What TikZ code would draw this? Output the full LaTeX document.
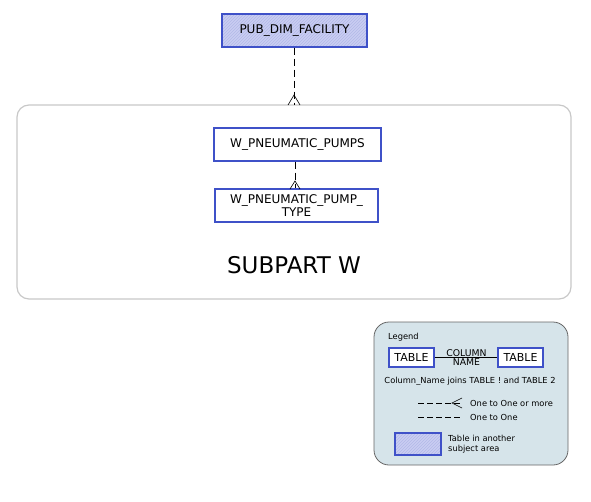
\documentclass[tikz,border=0pt]{standalone}
\usepackage{fontspec}
\setmainfont{DejaVu Sans}
\usetikzlibrary{patterns}
\definecolor{tblue}{HTML}{3F51C8}
\definecolor{hatchfill}{HTML}{C9CDF2}
\definecolor{hatchline}{HTML}{B3B9E8}
\definecolor{leggray}{HTML}{D6E4EA}
\definecolor{subgray}{HTML}{C8C8C8}
\tikzset{
  tbl/.style={draw=tblue, line width=1.3pt, fill=white, inner sep=0pt, align=center, font=\fontsize{12}{13}\selectfont},
  other/.style={tbl, preaction={fill=hatchfill}, pattern=north east lines, pattern color=hatchline},
  rel/.style={dashed, dash pattern=on 7pt off 4pt, line width=0.7pt},
  small/.style={font=\fontsize{8.3}{10}\selectfont, inner sep=0pt},
}
\begin{document}
\begin{tikzpicture}[x=1pt,y=-1pt]
\useasboundingbox (0,0) rectangle (591,501);
% subpart container
\draw[subgray, line width=1.2pt, rounded corners=12pt] (17,105) rectangle (571,299);
\coordinate (subtop) at (294,105);
\node[other, minimum width=145pt, minimum height=33pt] (pub) at (294.5,30.5) {PUB\_DIM\_FACILITY};
\node[tbl, minimum width=167pt, minimum height=33pt] (wpp) at (297.5,144.5) {W\_PNEUMATIC\_PUMPS};
\node[tbl, minimum width=163pt, minimum height=33pt] (wppt) at (296.5,205.5) {W\_PNEUMATIC\_PUMP\_\\TYPE};
\node[font=\fontsize{23}{26}\selectfont, inner sep=0pt] (subw) at (294,265) {SUBPART W};
% connectors
\draw[rel] (pub.south -| subtop) -- (subtop);
\draw[line width=0.6pt] (288,105) -- (294,95) -- (300,105);
\draw[rel] (wpp.south -| 295,0) -- (wppt.north -| 295,0);
\draw[line width=0.6pt] (290,189) -- (295,181) -- (300,189);
% legend
\draw[gray!80!black, line width=0.8pt, fill=leggray, rounded corners=15pt] (374,322) rectangle (568,465);
\node[small, anchor=west] (leg) at (388,337) {Legend};
\node[tbl, line width=1.1pt, minimum width=45pt, minimum height=19pt, font=\fontsize{11}{12}\selectfont] (t1) at (411.5,357.5) {TABLE};
\node[tbl, line width=1.1pt, minimum width=45pt, minimum height=19pt, font=\fontsize{11}{12}\selectfont] (t2) at (520.5,357.5) {TABLE};
\coordinate (cl) at (446,357.5);
\coordinate (cr) at (487,357.5);
\node[small, font=\fontsize{9.3}{10}\selectfont, anchor=south] (col) at (466.5,356.5) {COLUMN};
\node[small, font=\fontsize{9.3}{10}\selectfont, anchor=north] (nam) at (466.5,359) {NAME};
\draw[line width=0.6pt] (t1.east) -- (t1.east -| cl);
\draw[line width=0.6pt] (cl) -- (cr);
\draw[line width=0.6pt] (t2.west -| cr) -- (t2.west);
\node[small] (joins) at (470,381) {Column\_Name joins TABLE ! and TABLE 2};
\coordinate (a1) at (418,403);
\coordinate (a2) at (462,403);
\draw[rel, dash pattern=on 6pt off 3pt] (a1) -- (a2);
\draw[line width=0.6pt] (462,398) -- (452,403) -- (462,408);
\node[small, anchor=west] (l1) at (470,403) {One to One or more};
\coordinate (b1) at (418,417);
\coordinate (b2) at (462,417);
\draw[rel, dash pattern=on 6pt off 3pt] (b1) -- (b2);
\node[small, anchor=west] (l2) at (470,417) {One to One};
\node[other, line width=1.1pt, minimum width=46pt, minimum height=22pt] (hb) at (418,444) {};
\node[small, anchor=west, align=left] (l3) at (448,444.5) {Table in another\\subject area};
\end{tikzpicture}
\end{document}
